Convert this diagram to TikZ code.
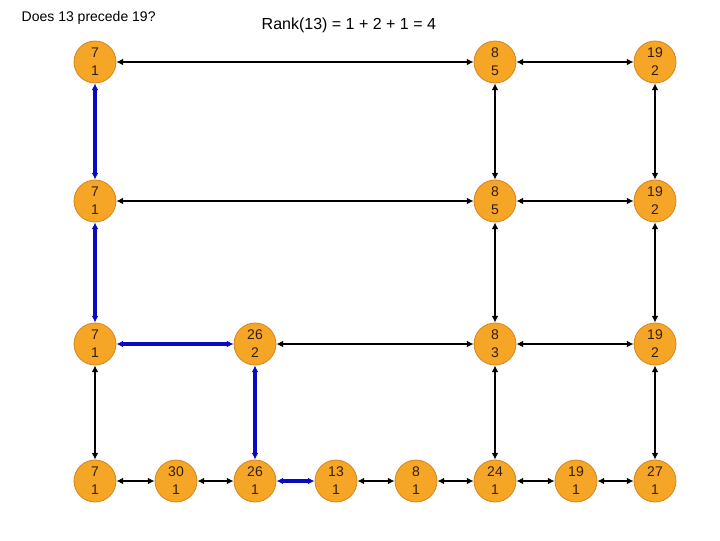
\documentclass[tikz,border=0pt]{standalone}
\usepackage{fontspec}
\setmainfont{Liberation Sans}
\usetikzlibrary{arrows.meta}
\definecolor{nodefill}{RGB}{246,166,38}
\definecolor{nodeedge}{RGB}{214,130,30}
\definecolor{nodetext}{RGB}{50,30,10}
\definecolor{pathblue}{RGB}{10,10,190}
\tikzset{
  skip/.style={circle, draw=nodeedge, line width=0.6pt, fill=nodefill, minimum size=31.5pt, inner sep=0pt,
    font=\fontsize{10.5}{13.5}\selectfont, text=nodetext, align=center},
  link/.style={line width=1.8pt, black, {Latex[length=5pt,width=5pt]}-{Latex[length=5pt,width=5pt]}},
  bluelink/.style={line width=2.3pt, pathblue, {Latex[length=5pt,width=5pt]}-{Latex[length=5pt,width=5pt]}}
}
\begin{document}
\begin{tikzpicture}[x=0.75pt,y=-0.75pt]
\useasboundingbox (0,0) rectangle (720,540);
\node[anchor=west, font=\fontsize{10.5}{12}\selectfont] (q) at (17,18) {Does 13 precede 19?};
\node[anchor=west, font=\fontsize{12}{14}\selectfont] (r) at (257,25) {Rank(13) = 1 + 2 + 1 = 4};
% row 1
\node[skip] (a1) at (95,62) {7\\1};
\node[skip] (b1) at (495,62) {8\\5};
\node[skip] (c1) at (655,62) {19\\2};
% row 2
\node[skip] (a2) at (95,201) {7\\1};
\node[skip] (b2) at (495,201) {8\\5};
\node[skip] (c2) at (655,201) {19\\2};
% row 3
\node[skip] (a3) at (95,344) {7\\1};
\node[skip] (d3) at (255,344) {26\\2};
\node[skip] (b3) at (495,344) {8\\3};
\node[skip] (c3) at (655,344) {19\\2};
% row 4
\node[skip] (a4) at (95,481) {7\\1};
\node[skip] (e4) at (176,481) {30\\1};
\node[skip] (d4) at (255,481) {26\\1};
\node[skip] (f4) at (336,481) {13\\1};
\node[skip] (g4) at (416,481) {8\\1};
\node[skip] (b4) at (495,481) {24\\1};
\node[skip] (h4) at (576,481) {19\\1};
\node[skip] (c4) at (655,481) {27\\1};
% horizontal
\draw[link] (a1) -- (b1);
\draw[link] (b1) -- (c1);
\draw[link] (a2) -- (b2);
\draw[link] (b2) -- (c2);
\draw[bluelink] (a3) -- (d3);
\draw[link] (d3) -- (b3);
\draw[link] (b3) -- (c3);
\draw[link] (a4) -- (e4);
\draw[link] (e4) -- (d4);
\draw[bluelink] (d4) -- (f4);
\draw[link] (f4) -- (g4);
\draw[link] (g4) -- (b4);
\draw[link] (b4) -- (h4);
\draw[link] (h4) -- (c4);
% vertical
\draw[bluelink] (a1) -- (a2);
\draw[link] (b1) -- (b2);
\draw[link] (c1) -- (c2);
\draw[bluelink] (a2) -- (a3);
\draw[link] (b2) -- (b3);
\draw[link] (c2) -- (c3);
\draw[link] (a3) -- (a4);
\draw[bluelink] (d3) -- (d4);
\draw[link] (b3) -- (b4);
\draw[link] (c3) -- (c4);
\end{tikzpicture}
\end{document}
